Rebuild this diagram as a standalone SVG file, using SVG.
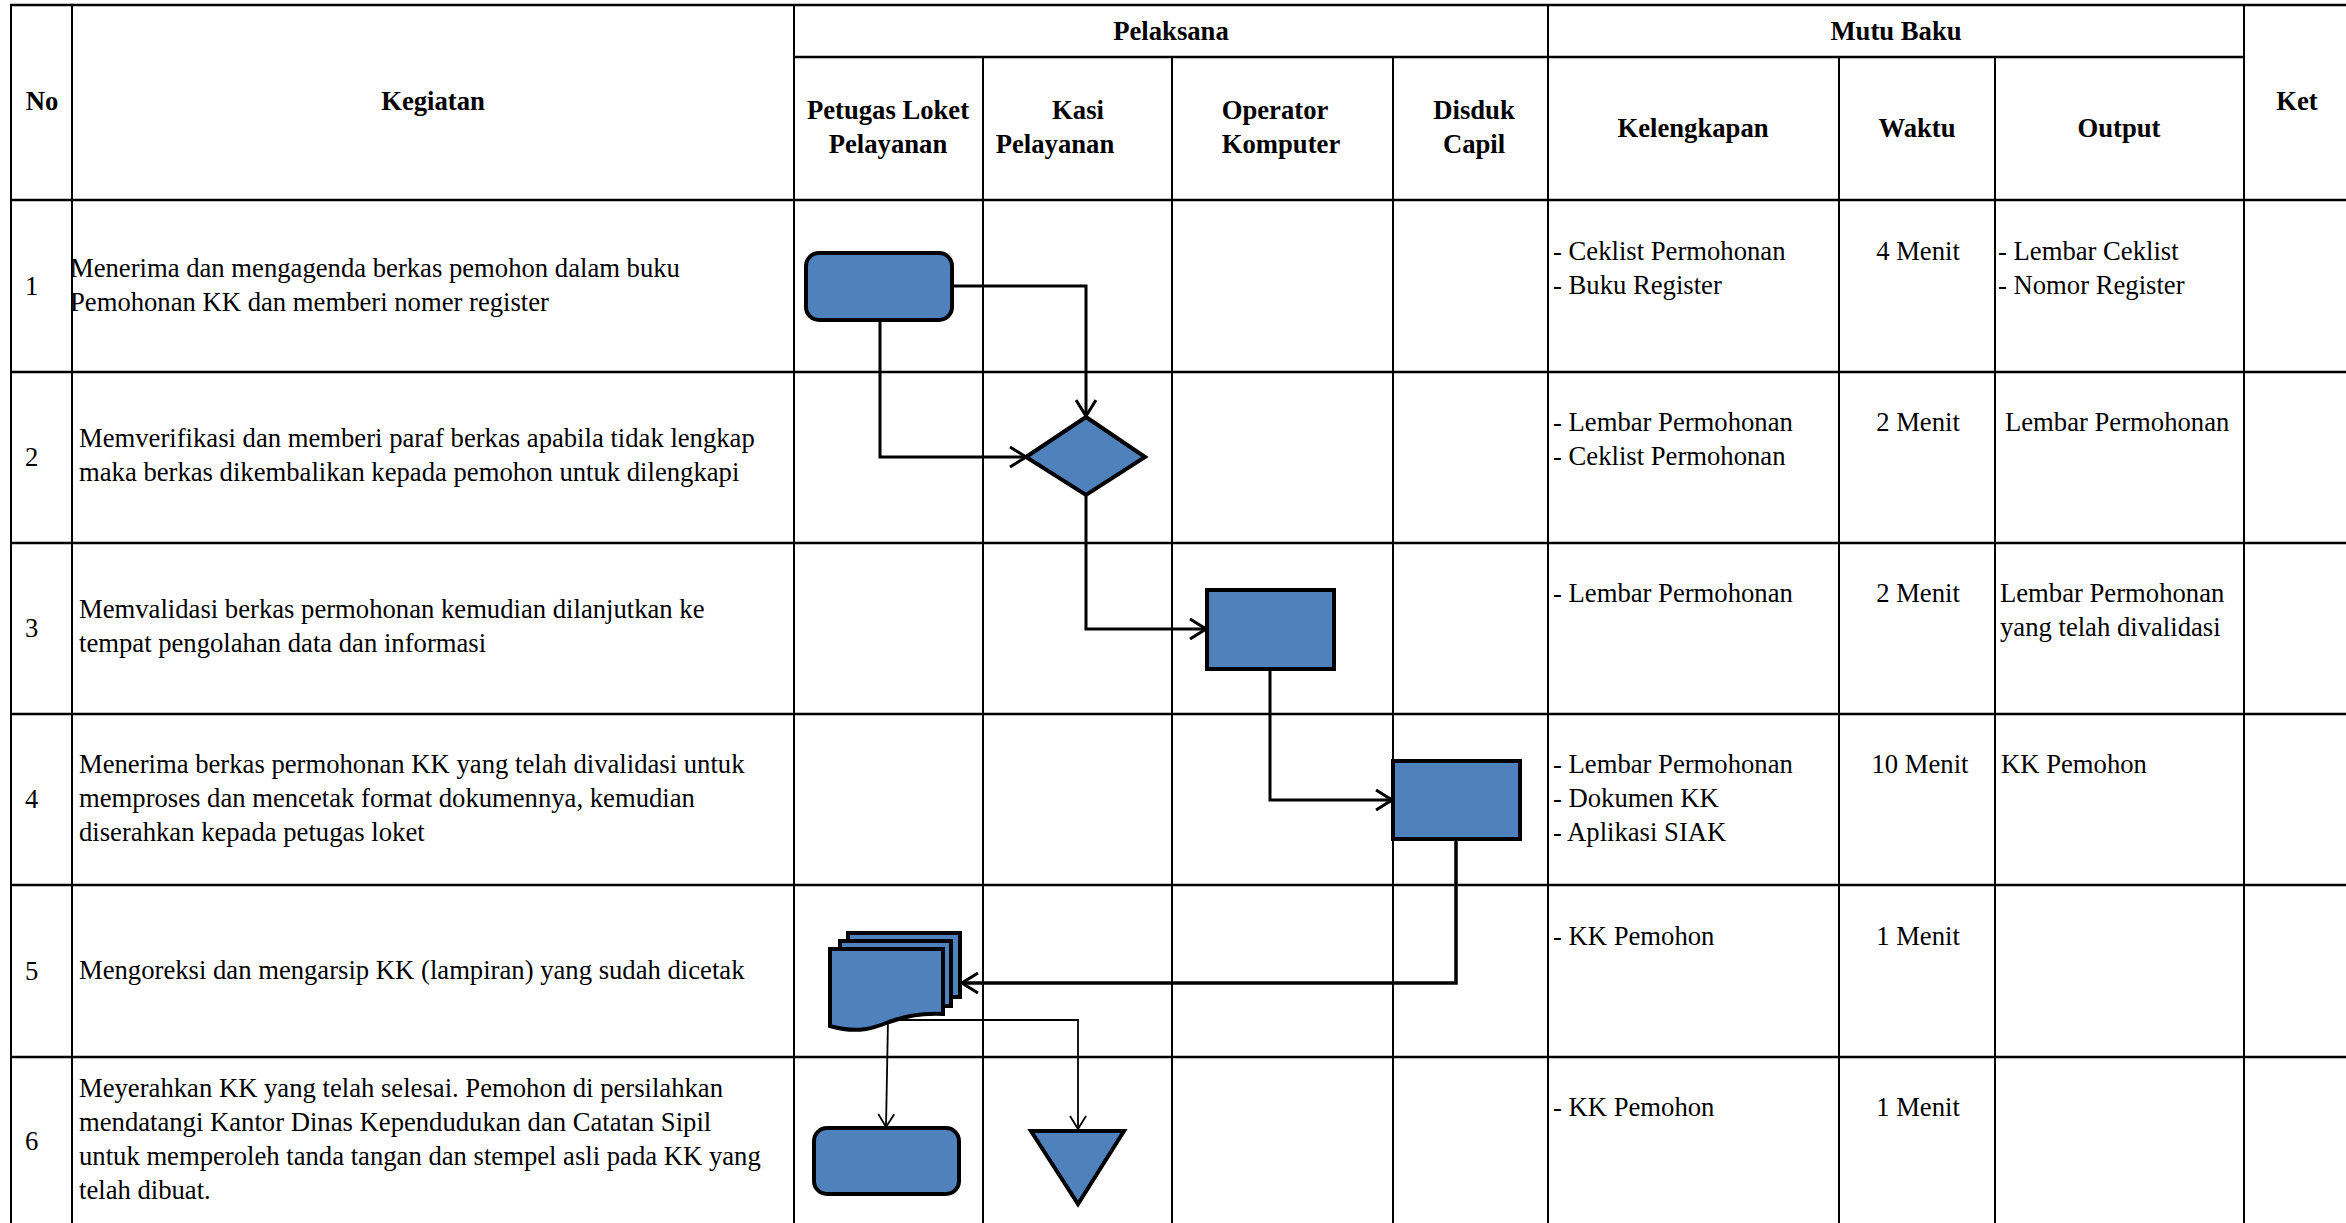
<svg xmlns="http://www.w3.org/2000/svg" width="2346" height="1223" viewBox="0 0 2346 1223">
<style>
.t{font-family:"Liberation Serif","Times New Roman",serif;font-size:26.67px;fill:#000}
.b{font-weight:bold}
.m{text-anchor:middle}
.h{stroke:#000;stroke-width:2.6;fill:none}
.v{stroke:#000;stroke-width:2;fill:none}
.shape{fill:#4F81BD;stroke:#000;stroke-width:4;stroke-linejoin:miter}
.con{fill:none;stroke:#000;stroke-width:3}
.conT{fill:none;stroke:#000;stroke-width:1.8}
</style>
<defs>
<marker id="arr" viewBox="0 0 18 22" refX="17" refY="11" markerWidth="18" markerHeight="22" markerUnits="userSpaceOnUse" orient="auto">
<path d="M1,1 L17,11 L1,21" fill="none" stroke="#000" stroke-width="3"/>
</marker>
<marker id="arrT" viewBox="0 0 15 18" refX="14" refY="9" markerWidth="15" markerHeight="18" markerUnits="userSpaceOnUse" orient="auto">
<path d="M1,1 L14,9 L1,17" fill="none" stroke="#000" stroke-width="1.8"/>
</marker>
</defs>
<rect x="0" y="0" width="2346" height="1223" fill="#fff"/>
<g id="table">
<line class="h" x1="10" y1="5" x2="2346" y2="5"/>
<line class="h" x1="794" y1="57" x2="2244" y2="57"/>
<line class="h" x1="10" y1="200" x2="2346" y2="200"/>
<line class="h" x1="10" y1="372" x2="2346" y2="372"/>
<line class="h" x1="10" y1="543" x2="2346" y2="543"/>
<line class="h" x1="10" y1="714" x2="2346" y2="714"/>
<line class="h" x1="10" y1="885" x2="2346" y2="885"/>
<line class="h" x1="10" y1="1057" x2="2346" y2="1057"/>
<line class="v" x1="11" y1="4" x2="11" y2="1223"/>
<line class="v" x1="72" y1="4" x2="72" y2="1223"/>
<line class="v" x1="794" y1="4" x2="794" y2="1223"/>
<line class="v" x1="983" y1="57" x2="983" y2="1223"/>
<line class="v" x1="1172" y1="57" x2="1172" y2="1223"/>
<line class="v" x1="1393" y1="57" x2="1393" y2="1223"/>
<line class="v" x1="1548" y1="4" x2="1548" y2="1223"/>
<line class="v" x1="1839" y1="57" x2="1839" y2="1223"/>
<line class="v" x1="1995" y1="57" x2="1995" y2="1223"/>
<line class="v" x1="2244" y1="4" x2="2244" y2="1223"/>
</g>
<g id="header">
<text class="t b m" x="42" y="110">No</text>
<text class="t b m" x="433" y="110">Kegiatan</text>
<text class="t b m" x="1171" y="40">Pelaksana</text>
<text class="t b m" x="1896" y="40">Mutu Baku</text>
<text class="t b m" x="2297" y="110">Ket</text>
<text class="t b m" x="888" y="119">Petugas Loket</text>
<text class="t b m" x="888" y="153">Pelayanan</text>
<text class="t b m" x="1078" y="119">Kasi</text>
<text class="t b m" x="1055" y="153">Pelayanan</text>
<text class="t b m" x="1275" y="119">Operator</text>
<text class="t b m" x="1281" y="153">Komputer</text>
<text class="t b m" x="1474" y="119">Disduk</text>
<text class="t b m" x="1474" y="153">Capil</text>
<text class="t b m" x="1693" y="137">Kelengkapan</text>
<text class="t b m" x="1917" y="137">Waktu</text>
<text class="t b m" x="2119" y="137">Output</text>
</g>
<g id="row-texts">
<text class="t" x="25" y="295">1</text>
<text class="t" x="70" y="277">Menerima dan mengagenda berkas pemohon dalam buku</text>
<text class="t" x="70" y="311">Pemohonan KK dan memberi nomer register</text>
<text class="t" x="1553" y="260">- Ceklist Permohonan</text>
<text class="t" x="1553" y="294">- Buku Register</text>
<text class="t m" x="1918" y="260">4 Menit</text>
<text class="t" x="1998" y="260">- Lembar Ceklist</text>
<text class="t" x="1998" y="294">- Nomor Register</text>

<text class="t" x="25" y="466">2</text>
<text class="t" x="79" y="447">Memverifikasi dan memberi paraf berkas apabila tidak lengkap</text>
<text class="t" x="79" y="481">maka berkas dikembalikan kepada pemohon untuk dilengkapi</text>
<text class="t" x="1553" y="431">- Lembar Permohonan</text>
<text class="t" x="1553" y="465">- Ceklist Permohonan</text>
<text class="t m" x="1918" y="431">2 Menit</text>
<text class="t" x="2005" y="431">Lembar Permohonan</text>

<text class="t" x="25" y="637">3</text>
<text class="t" x="79" y="618">Memvalidasi berkas permohonan kemudian dilanjutkan ke</text>
<text class="t" x="79" y="652">tempat pengolahan data dan informasi</text>
<text class="t" x="1553" y="602">- Lembar Permohonan</text>
<text class="t m" x="1918" y="602">2 Menit</text>
<text class="t" x="2000" y="602">Lembar Permohonan</text>
<text class="t" x="2000" y="636">yang telah divalidasi</text>

<text class="t" x="25" y="808">4</text>
<text class="t" x="79" y="773">Menerima berkas permohonan KK yang telah divalidasi untuk</text>
<text class="t" x="79" y="807">memproses dan mencetak format dokumennya, kemudian</text>
<text class="t" x="79" y="841">diserahkan kepada petugas loket</text>
<text class="t" x="1553" y="773">- Lembar Permohonan</text>
<text class="t" x="1553" y="807">- Dokumen KK</text>
<text class="t" x="1553" y="841">- Aplikasi SIAK</text>
<text class="t m" x="1920" y="773">10 Menit</text>
<text class="t" x="2001" y="773">KK Pemohon</text>

<text class="t" x="25" y="980">5</text>
<text class="t" x="79" y="979">Mengoreksi dan mengarsip KK (lampiran) yang sudah dicetak</text>
<text class="t" x="1553" y="945">- KK Pemohon</text>
<text class="t m" x="1918" y="945">1 Menit</text>

<text class="t" x="25" y="1150">6</text>
<text class="t" x="79" y="1097">Meyerahkan KK yang telah selesai. Pemohon di persilahkan</text>
<text class="t" x="79" y="1131">mendatangi Kantor Dinas Kependudukan dan Catatan Sipil</text>
<text class="t" x="79" y="1165">untuk memperoleh tanda tangan dan stempel asli pada KK yang</text>
<text class="t" x="79" y="1199">telah dibuat.</text>
<text class="t" x="1553" y="1116">- KK Pemohon</text>
<text class="t m" x="1918" y="1116">1 Menit</text>
</g>
<g id="connectors">
<path class="con" d="M952,286 H1086 V416" marker-end="url(#arr)"/>
<path class="con" d="M880,320 V457 H1026" marker-end="url(#arr)"/>
<path class="con" d="M1086,495 V629 H1206" marker-end="url(#arr)"/>
<path class="con" d="M1270,669 V800 H1392" marker-end="url(#arr)"/>
<path class="con" style="stroke-width:3.5" d="M1456,839 V983 H962" marker-end="url(#arr)"/>
<path class="conT" d="M888,1020 L886,1127" marker-end="url(#arrT)"/>
<path class="conT" d="M888,1020 H1078 V1129" marker-end="url(#arrT)"/>
</g>
<g id="node1-start">
<rect class="shape" x="806" y="253" width="146" height="67" rx="13" ry="13"/>
</g>
<g id="node2-decision">
<polygon class="shape" points="1086,417 1145,457 1086,495 1026,457"/>
</g>
<g id="node3-validasi">
<rect class="shape" x="1207" y="590" width="127" height="79"/>
</g>
<g id="node4-proses">
<rect class="shape" x="1393" y="761" width="127" height="78"/>
</g>
<g id="node5-documents">
<rect class="shape" x="848" y="933" width="112" height="64"/>
<rect class="shape" x="840" y="941" width="111" height="65"/>
<path class="shape" d="M830,949 H943 V1014 C918,1013 903,1017 889,1022 C874,1028 858,1034 830,1026 Z"/>
</g>
<g id="node6-end">
<rect class="shape" x="814" y="1128" width="145" height="66" rx="13" ry="13"/>
</g>
<g id="node7-merge">
<polygon class="shape" points="1031,1131 1124,1131 1078,1204"/>
</g>
</svg>
